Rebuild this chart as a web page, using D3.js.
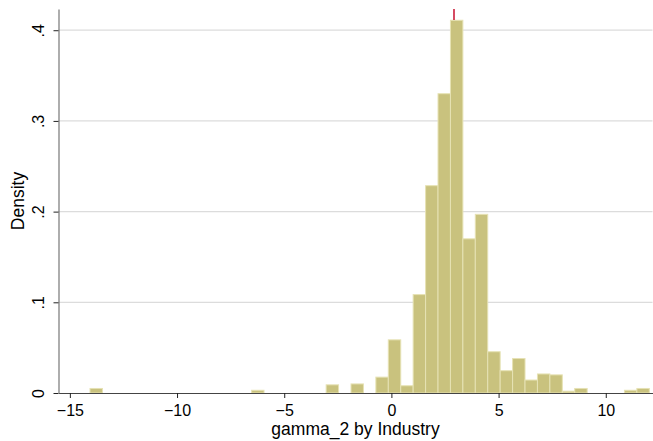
<!DOCTYPE html>
<html>
<head>
<meta charset="utf-8">
<script src="https://cdnjs.cloudflare.com/ajax/libs/d3/7.8.5/d3.min.js"></script>
<style>
	body{margin:0;background:white;}
	text{font-family:"Liberation Sans",Arial,Helvetica,sans-serif;fill:#000;}
</style>
</head>
<body>
<svg id="chart" width="653" height="441"></svg>
<script>

// histogram: 45 bins starting at binStart, each binWidth wide
var binStart = -14.06;
var binWidth = 0.5798;
var densities = [
	0.005, 0, 0, 0, 0, 0, 0, 0, 0, 0,
	0, 0, 0, 0.003, 0, 0, 0, 0, 0, 0.009,
	0, 0.010, 0, 0.0175, 0.0586, 0.008, 0.1085, 0.2286, 0.330, 0.411,
	0.170, 0.197, 0.0455, 0.0246, 0.038, 0.0143, 0.021, 0.020, 0.002, 0.005,
	0, 0, 0, 0.003, 0.005
];
var xTicks = [-15, -10, -5, 0, 5, 10];
var yTicks = [0, 0.1, 0.2, 0.3, 0.4];
var yTickLabels = ["0", ".1", ".2", ".3", ".4"];
var markerValue = 2.92;

var svg = d3.select("#chart");

var xScale = d3.scaleLinear()
	.domain([-15.53, 12.18])
	.range([58.5, 652.5]);

var yScale = d3.scaleLinear()
	.domain([0, 0.4234])
	.range([393, 9]);

// gridlines
svg.append("g")
	.attr("class","grid")
	.selectAll("line")
	.data(yTicks.slice(1))
	.enter()
	.append("line")
	.attr("x1",xScale.range()[0])
	.attr("x2",xScale.range()[1])
	.attr("y1",function(d){return yScale(d)})
	.attr("y2",function(d){return yScale(d)})
	.attr("stroke","#dcdcdc")
	.attr("stroke-width",1.3);

// bars
svg.append("g")
	.attr("id","bars")
	.selectAll("rect")
	.data(densities)
	.enter()
	.append("rect")
	.attr("x",function(d,i){return xScale(binStart+i*binWidth)})
	.attr("width",function(d,i){return xScale(binStart+(i+1)*binWidth)-xScale(binStart+i*binWidth)})
	.attr("y",function(d){return yScale(d)})
	.attr("height",function(d){return yScale(0)-yScale(d)})
	.attr("fill",function(d){return d==0 ? "none" : "#c9c27e"})
	.attr("stroke",function(d){return d==0 ? "none" : "#e6e2b4"})
	.attr("stroke-width",1);

// marker at the top
svg.append("line")
	.attr("x1",xScale(markerValue))
	.attr("x2",xScale(markerValue))
	.attr("y1",yScale.range()[1])
	.attr("y2",yScale.range()[1]+11)
	.attr("stroke","#c8102e")
	.attr("stroke-width",1.5);

var xAxis = d3.axisBottom(xScale)
	.tickValues(xTicks)
	.tickSize(5)
	.tickSizeOuter(0)
	.tickFormat(d3.format("d"));

var xg = svg.append("g")
	.attr("transform","translate(0,393)")
	.call(xAxis);
xg.select(".domain").attr("stroke","#444").attr("stroke-width",1.2);
xg.selectAll(".tick line").attr("stroke","#222");
xg.selectAll("text")
	.attr("y",23)
	.attr("dy",0)
	.style("font-size","16px")
	.style("font-family","'Liberation Sans',Arial,sans-serif")
	.attr("fill","#000");

var yAxis = d3.axisLeft(yScale)
	.tickValues(yTicks)
	.tickSize(5)
	.tickSizeOuter(0)
	.tickFormat(function(d,i){return yTickLabels[i]});

var yg = svg.append("g")
	.attr("transform","translate(58.5,0)")
	.call(yAxis);
yg.select(".domain").attr("stroke","#777").attr("stroke-width",1.2);
yg.selectAll(".tick line").attr("stroke","#222");
yg.selectAll("text")
	.attr("transform","rotate(-90)")
	.attr("x",0)
	.attr("y",-15)
	.attr("dy",0)
	.style("text-anchor","middle")
	.style("font-size","16px")
	.style("font-family","'Liberation Sans',Arial,sans-serif")
	.attr("fill","#000");

// titles
svg.append("text")
	.attr("x",(xScale.range()[0]+xScale.range()[1])/2)
	.attr("y",435)
	.style("text-anchor","middle")
	.style("font-size","17.5px")
	.text("gamma_2 by Industry");

svg.append("text")
	.attr("transform","translate(24,201) rotate(-90)")
	.style("text-anchor","middle")
	.style("font-size","17.5px")
	.text("Density");

</script>
</body>
</html>
